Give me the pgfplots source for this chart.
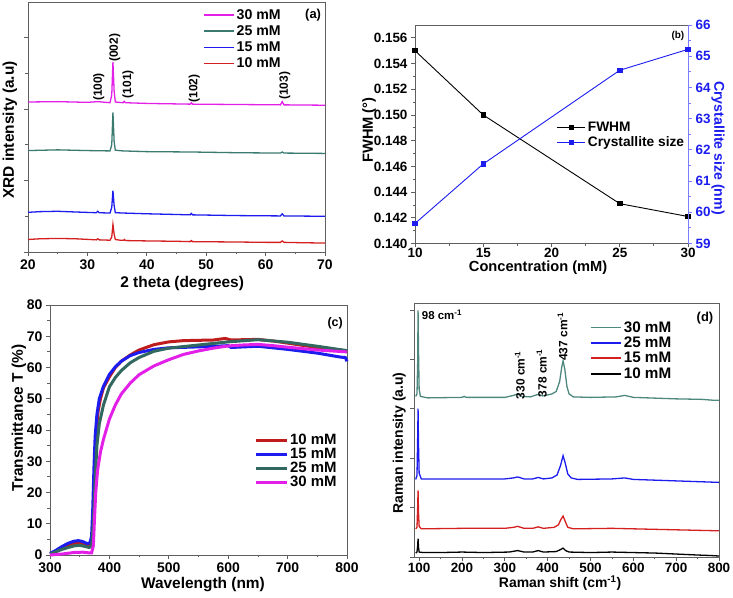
\documentclass[border=0pt]{standalone}
\usepackage{fontspec}
\setmainfont{Liberation Sans}
\usepackage{pgfplots}
\pgfplotsset{compat=1.18}

\definecolor{cmag}{RGB}{226,32,232}
\definecolor{cteal}{RGB}{58,122,112}
\definecolor{cblue}{RGB}{28,28,238}
\definecolor{cred}{RGB}{212,32,32}
\definecolor{axgray}{RGB}{95,95,95}
\definecolor{rblue}{RGB}{125,125,255}

\newcommand{\fs}[1]{\fontsize{#1}{#1}\selectfont\bfseries}

\pgfplotsset{
  base/.style={
    scale only axis, clip=false,
    axis line style={axgray, line width=0.9bp},
    every tick/.style={axgray, line width=0.8bp},
    tick align=outside, xtick pos=left, ytick pos=left,
    major tick length=4bp, minor tick length=2.5bp,
    /pgf/number format/assume math mode=true,
    tick label style={font=\fs{13.5}},
    label style={font=\fs{14}},
    legend cell align=left,
    legend style={draw=none, fill=none, font=\fs{14}, inner sep=0pt, outer sep=0pt, row sep=0pt},
    legend image code/.code={\draw[##1, line width=1.8bp] (0bp,0bp) -- (30bp,0bp);},
  },
}

\begin{document}
\begin{tikzpicture}
\useasboundingbox (0,0) rectangle (733bp,598bp);

% ---------------- (a) XRD ----------------
\begin{axis}[base,
  at={(28bp,346bp)}, anchor=south west, width=297bp, height=250bp,
  xmin=20, xmax=70, ymin=0, ymax=7,
  xtick={20,30,...,70}, minor x tick num=1,
  ytick={0,2,4,6}, minor ytick={1,3,5}, yticklabels={},
  tick label style={font=\fs{14}},
  label style={font=\fs{15.5}},
  xlabel={2 theta (degrees)}, ylabel={XRD intensity (a.u)},
  xlabel style={at={(axis description cs:0.519,-0.126)}, anchor=center},
  ylabel style={at={(axis description cs:-0.061,0.488)}, anchor=center},
  legend style={at={(axis description cs:0.589,0.978)}, anchor=north west, font=\fs{14.2}, row sep=0.8bp},
]
\addplot[cmag, line width=1.3bp] coordinates {(20,4.2)(25,4.21)(30,4.19)(31.75,4.21)(33.8,4.18)(34.1,4.4)(34.3,5.32)(34.5,4.5)(34.7,4.2)(36,4.18)(36.2,4.22)(36.4,4.18)(40,4.16)(47.3,4.14)(47.5,4.18)(47.7,4.14)(55,4.13)(62.5,4.12)(62.8,4.21)(63.1,4.12)(70,4.11)};
\addlegendentry{30 mM}
\addplot[cteal, line width=1.3bp] coordinates {(20,2.84)(25,2.86)(30,2.84)(33.8,2.83)(34.1,3.0)(34.3,3.91)(34.5,3.1)(34.7,2.85)(36,2.83)(40,2.81)(47.5,2.80)(55,2.78)(62.5,2.77)(62.8,2.8)(63.1,2.77)(70,2.76)};
\addlegendentry{25 mM}
\addplot[cblue, line width=1.3bp] coordinates {(20,1.11)(22,1.13)(25,1.14)(28,1.12)(31.5,1.10)(31.75,1.14)(32,1.10)(33.8,1.09)(34.1,1.25)(34.3,1.72)(34.5,1.3)(34.7,1.1)(36.2,1.09)(40,1.07)(45,1.05)(47.3,1.04)(47.5,1.08)(47.7,1.04)(55,1.02)(62.5,1.01)(62.8,1.07)(63.1,1.01)(70,1.0)};
\addlegendentry{15 mM}
\addplot[cred, line width=1.3bp] coordinates {(20,0.35)(22,0.37)(25,0.38)(28,0.37)(31.5,0.34)(31.75,0.37)(32,0.34)(33.8,0.33)(34.1,0.42)(34.3,0.77)(34.5,0.5)(34.7,0.35)(35.5,0.33)(36.1,0.33)(36.25,0.35)(36.4,0.32)(40,0.31)(45,0.3)(47.3,0.29)(47.5,0.32)(47.7,0.29)(55,0.28)(60,0.27)(62.5,0.27)(62.8,0.31)(63.1,0.27)(66,0.26)(70,0.25)};
\addlegendentry{10 mM}
\node[rotate=90, font=\fs{12}] at (axis cs:31.9,4.62) {(100)};
\node[rotate=90, font=\fs{12}] at (axis cs:34.6,5.72) {(002)};
\node[rotate=90, font=\fs{12}] at (axis cs:36.85,4.70) {(101)};
\node[rotate=90, font=\fs{12}] at (axis cs:48.0,4.58) {(102)};
\node[rotate=90, font=\fs{12}] at (axis cs:63.25,4.65) {(103)};
\node[font=\fs{13}] at (axis description cs:0.96,0.948) {(a)};
\end{axis}

% ---------------- (b) FWHM / crystallite ----------------
\begin{axis}[base,
  at={(415bp,354.5bp)}, anchor=south west, width=273bp, height=218.5bp,
  xmin=10, xmax=30, ymin=0.140, ymax=0.157,
  xtick={10,15,...,30}, minor x tick num=1,
  ytick={0.140,0.142,...,0.1565}, minor y tick num=1,
  yticklabel style={/pgf/number format/.cd, fixed, fixed zerofill, precision=3},
  xticklabel style={yshift=2.5bp},
  scaled y ticks=false,
  label style={font=\fs{14.7}},
  xlabel={Concentration (mM)}, ylabel={FWHM (°)},
  xlabel style={at={(axis description cs:0.451,-0.112)}, anchor=center},
  ylabel style={at={(axis description cs:-0.168,0.519)}, anchor=center},
]
\addplot[black, line width=0.9bp, mark=square*, mark size=2.2bp] coordinates {(10,0.155)(15,0.150)(25,0.1431)(30,0.1421)};
\end{axis}
\begin{axis}[base,
  at={(415bp,354.5bp)}, anchor=south west, width=273bp, height=218.5bp,
  xmin=10, xmax=30, ymin=59, ymax=66,
  axis x line=none, axis y line*=right, ytick pos=right,
  ytick={59,...,66}, minor y tick num=1,
  y axis line style={rblue, line width=0.9bp},
  ytick style={rblue},
  yticklabel style={text=cblue},
  ylabel={Crystallite size (nm)},
  ylabel style={at={(axis description cs:1.110,0.437)}, anchor=center, rotate=180, text=cblue, font=\fs{14.2}},
  legend style={at={(axis description cs:0.52,0.565)}, anchor=north west, font=\fs{13.8}},
  legend image code/.code={\draw[#1, mark repeat=2, mark phase=2] plot coordinates {(0bp,0bp) (14bp,0bp) (28bp,0bp)};},
]
\addlegendimage{black, line width=0.9bp, mark=square*, mark size=2.2bp}
\addlegendentry{FWHM}
\addplot[cblue, line width=0.9bp, mark=square*, mark size=2.2bp] coordinates {(10,59.64)(15,61.55)(25,64.55)(30,65.22)};
\addlegendentry{Crystallite size}
\node[font=\fs{10}] at (axis description cs:0.963,0.95) {(b)};
\end{axis}

% ---------------- (c) Transmittance ----------------
\begin{axis}[base,
  at={(50bp,43bp)}, anchor=south west, width=297bp, height=250bp,
  xmin=300, xmax=800, ymin=0, ymax=80,
  xtick={300,400,...,800}, minor x tick num=1,
  ytick={0,10,...,80}, minor y tick num=1,
  tick label style={font=\fs{14}},
  label style={font=\fs{15.5}},
  xlabel={Wavelength (nm)}, ylabel={Transmittance T (\%)},
  xlabel style={at={(axis description cs:0.515,-0.12)}, anchor=center},
  ylabel style={at={(axis description cs:-0.105,0.548)}, anchor=center},
  legend style={at={(axis description cs:0.687,0.49)}, anchor=north west, font=\fs{15}, row sep=-2bp},
  legend image code/.code={\draw[#1] (0bp,0bp) -- (31bp,0bp);},
]
\addplot[cred!90!black, line width=3bp] coordinates {(300,0.3)(310,1)(320,2.2)(330,3.2)(340,3.7)(350,3.8)(358,3.4)(365,3.0)(369,3.4)(372,8)(374,18)(376,30)(378,40)(381,46)(385,50)(390,53.5)(400,57)(410,60)(420,62)(435,64)(450,65.6)(475,67.3)(500,68.2)(525,68.6)(550,68.7)(575,68.8)(595,69.3)(605,68.8)(625,68.9)(650,69.0)(675,68.5)(700,67.8)(725,67.1)(750,66.4)(775,65.8)(800,65.3)};
\addlegendentry{10 mM}
\addplot[cblue, line width=3bp] coordinates {(300,0.5)(310,1.5)(320,2.7)(330,3.7)(340,4.4)(348,4.6)(355,4.3)(362,3.7)(367,3.8)(370,6)(372,15)(374,28)(376,38)(379,45)(383,50)(390,54)(400,57.8)(410,60.2)(420,62)(435,63.8)(450,64.8)(475,65.8)(500,66.3)(550,66.6)(590,66.9)(600,67.0)(605,66.4)(615,66.5)(650,66.8)(700,65.8)(750,64.6)(790,63.3)(797,63.2)(800,62)};
\addlegendentry{15 mM}
\addplot[cteal!85!black, line width=3bp] coordinates {(300,0.3)(320,1.8)(340,2.9)(350,3.1)(360,2.7)(366,2.4)(370,3)(373,10)(376,24)(379,35)(383,42)(390,48)(400,53.8)(410,56.8)(420,59)(435,61.5)(450,63.2)(475,65.2)(500,66.2)(550,67.2)(600,68.2)(650,68.9)(700,68.1)(750,66.8)(800,65.4)};
\addlegendentry{25 mM}
\addplot[cmag, line width=3bp] coordinates {(300,0)(320,0.3)(340,0.8)(355,0.9)(365,0.7)(370,0.7)(373,3)(375,12)(377,20)(380,27)(385,33)(390,37)(400,43.5)(410,48)(420,51.5)(435,55)(450,57.7)(475,60.5)(500,62.5)(525,64.2)(550,65.3)(575,66.2)(600,66.9)(625,67.2)(650,67.4)(675,67.0)(700,66.5)(750,65.6)(800,65.0)};
\addlegendentry{30 mM}
\node[font=\fs{12.5}] at (axis description cs:0.96,0.928) {(c)};
\end{axis}

% ---------------- (d) Raman ----------------
\begin{axis}[base,
  at={(414bp,41bp)}, anchor=south west, width=305bp, height=254bp,
  xmin=88, xmax=800, ymin=0, ymax=5.14,
  xtick={100,200,...,800}, minor x tick num=1,
  ytick={0,1,...,5}, yticklabels={},
  xticklabel style={yshift=1bp},
  label style={font=\fs{14}},
  xlabel={Raman shift (cm\textsuperscript{-1})}, ylabel={Raman intensity (a.u)},
  xlabel style={at={(axis description cs:0.479,-0.102)}, anchor=center},
  ylabel style={at={(axis description cs:-0.048,0.449)}, anchor=center},
  legend style={at={(axis description cs:0.577,0.935)}, anchor=north west, font=\fs{15.3}, row sep=-0.7bp},
]
\addplot[cteal!90!white, line width=1.3bp] coordinates {(92,3.25)(95,3.3)(96.5,3.9)(97.5,4.99)(98.5,4.2)(100,3.4)(103,3.25)(120,3.22)(200,3.23)(205,3.25)(210,3.23)(300,3.23)(320,3.27)(330,3.3)(340,3.25)(360,3.24)(370,3.27)(378,3.29)(388,3.26)(400,3.28)(410,3.3)(420,3.35)(428,3.55)(433,3.85)(436,3.97)(440,3.8)(445,3.45)(450,3.3)(460,3.24)(500,3.23)(560,3.24)(580,3.27)(600,3.23)(700,3.2)(760,3.19)(790,3.17)(800,3.17)};
\addlegendentry{30 mM}
\addplot[cblue, line width=1.3bp] coordinates {(92,1.57)(95,1.65)(96.5,2.4)(97.5,3.0)(98.5,2.3)(100,1.7)(105,1.58)(200,1.58)(300,1.58)(320,1.6)(330,1.62)(345,1.58)(365,1.58)(378,1.61)(390,1.58)(410,1.6)(422,1.66)(430,1.85)(436,2.05)(441,1.9)(447,1.68)(455,1.6)(470,1.57)(550,1.58)(580,1.6)(600,1.57)(700,1.54)(800,1.51)};
\addlegendentry{25 mM}
\addplot[cred, line width=1.3bp] coordinates {(92,0.57)(95,0.6)(96.5,1.0)(97.5,1.35)(98.5,0.9)(100,0.62)(105,0.57)(200,0.58)(300,0.58)(320,0.6)(330,0.62)(345,0.58)(365,0.58)(378,0.61)(390,0.58)(415,0.6)(425,0.65)(431,0.76)(436,0.83)(441,0.72)(447,0.6)(460,0.57)(550,0.58)(600,0.57)(700,0.55)(800,0.53)};
\addlegendentry{15 mM}
\addplot[black, line width=1.3bp] coordinates {(92,0.08)(95,0.1)(96.5,0.22)(97.5,0.37)(98.5,0.2)(100,0.1)(110,0.09)(150,0.09)(200,0.1)(250,0.09)(310,0.1)(330,0.13)(345,0.1)(365,0.1)(378,0.13)(390,0.1)(420,0.11)(430,0.15)(436,0.18)(442,0.13)(450,0.1)(500,0.09)(550,0.1)(600,0.09)(650,0.08)(700,0.06)(750,0.04)(780,0.03)(800,0.02)};
\addlegendentry{10 mM}
\node[anchor=west, font=\fs{11.5}, inner sep=0pt] at (axis cs:106,4.90) {98 cm\textsuperscript{-1}};
\node[rotate=90, font=\fs{12}] at (axis cs:335,3.68) {330 cm\textsuperscript{-1}};
\node[rotate=90, font=\fs{12}] at (axis cs:386,3.72) {378 cm\textsuperscript{-1}};
\node[rotate=90, font=\fs{12}] at (axis cs:435,4.46) {437 cm\textsuperscript{-1}};
\node[font=\fs{13}] at (axis description cs:0.954,0.941) {(d)};
\end{axis}
\end{tikzpicture}
\end{document}
